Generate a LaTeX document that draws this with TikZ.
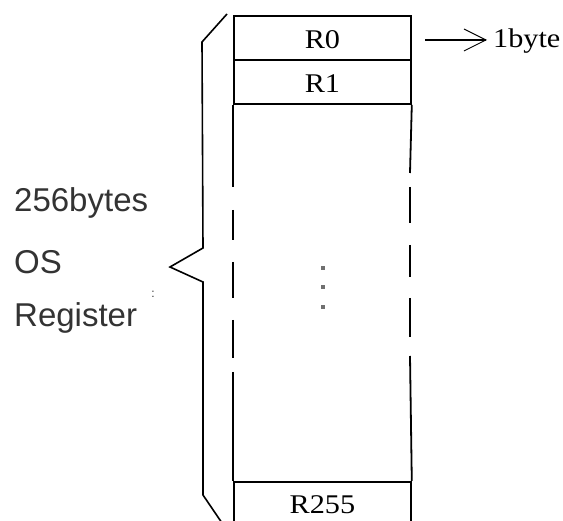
\documentclass[tikz,border=0pt]{standalone}
\usepackage{fontspec}
\setmainfont{Liberation Serif}
\newfontfamily\labsans{Liberation Sans}
\usetikzlibrary{arrows.meta}
\definecolor{txtgray}{HTML}{333333}
\definecolor{dotgray}{HTML}{707070}
\newcommand{\wide}[1]{\scalebox{1.12}[1]{#1}}
\begin{document}
\begin{tikzpicture}[x=1pt,y=-1pt,
  cell/.style={draw, line width=1.8pt, minimum width=177pt, minimum height=44pt, inner sep=0pt, anchor=north west, font=\fontsize{27}{27}\selectfont, text depth=0pt},
  wall/.style={line width=1.8pt},
  sidetext/.style={font=\labsans\fontsize{33}{33}\selectfont, text=txtgray, anchor=west, inner sep=0pt},
  bracestyle/.style={line width=1.6pt, line join=miter},
  vdot/.style={fill=dotgray, minimum size=3.6pt, inner sep=0pt}]
\useasboundingbox (0,0) rectangle (563,521);
% cells
\node[cell] (r0) at (233,15) {\raisebox{-3pt}{\wide{R0}}};
\node[cell] (r1) at (233,59) {\raisebox{-3pt}{\wide{R1}}};
\node[cell, minimum height=45pt] (r255) at (233,481) {\raisebox{-1pt}{\wide{R255}}};
% side walls of the middle region
\coordinate (l1) at (233,187); \coordinate (l2) at (233,210); \coordinate (l3) at (233,240);
\coordinate (l4) at (233,262); \coordinate (l5) at (233,298); \coordinate (l6) at (233,320);
\coordinate (l7) at (233,358); \coordinate (l8) at (233,372);
\draw[wall] (r1.south west) -- (l1);
\draw[wall] (l2) -- (l3);
\draw[wall] (l4) -- (l5);
\draw[wall] (l6) -- (l7);
\draw[wall] (l8) -- (r255.north west);
\coordinate (q1) at (410,173); \coordinate (q2) at (410,187); \coordinate (q3) at (410,223);
\coordinate (q4) at (410,245); \coordinate (q5) at (410,277); \coordinate (q6) at (410,298);
\coordinate (q7) at (410,337); \coordinate (q8) at (410,356);
\draw[wall] (r1.south east) -- (q1);
\draw[wall] (q2) -- (q3);
\draw[wall] (q4) -- (q5);
\draw[wall] (q6) -- (q7);
\draw[wall] (q8) -- (r255.north east);
% vertical dots
\node[vdot] (d1) at (323,268) {};
\node[vdot] (d2) at (323,287) {};
\node[vdot] (d3) at (323,307) {};
% arrow to 1byte
\node[font=\fontsize{27}{27}\selectfont, anchor=west, inner sep=0pt] (byte) at (493,41) {\wide{1byte}};
\coordinate (astart) at (425,40);
\draw[line width=1.3pt, -{Straight Barb[length=22pt,width=22pt,line width=0.9pt]}] (astart) -- ([xshift=-6pt]byte.west |- astart);
% brace
\coordinate (b1) at (227,14); \coordinate (b2) at (202,42); \coordinate (b3) at (203,248);
\coordinate (b4) at (170,267); \coordinate (b5) at (203,282); \coordinate (b6) at (203,495);
\coordinate (b7) at (222,523);
\draw[bracestyle] (b1) -- (b2) -- (b3) -- (b4) -- (b5) -- (b6) -- (b7);
% side texts
\node[sidetext] (t1) at (14,203) {256bytes};
\node[sidetext] (t2) at (14,262) {OS};
\node[sidetext] (t3) at (14,318) {Register};
\node[font=\labsans\fontsize{12}{12}\selectfont, text=txtgray, inner sep=0pt] (colon) at (153,294) {:};
\end{tikzpicture}
\end{document}
